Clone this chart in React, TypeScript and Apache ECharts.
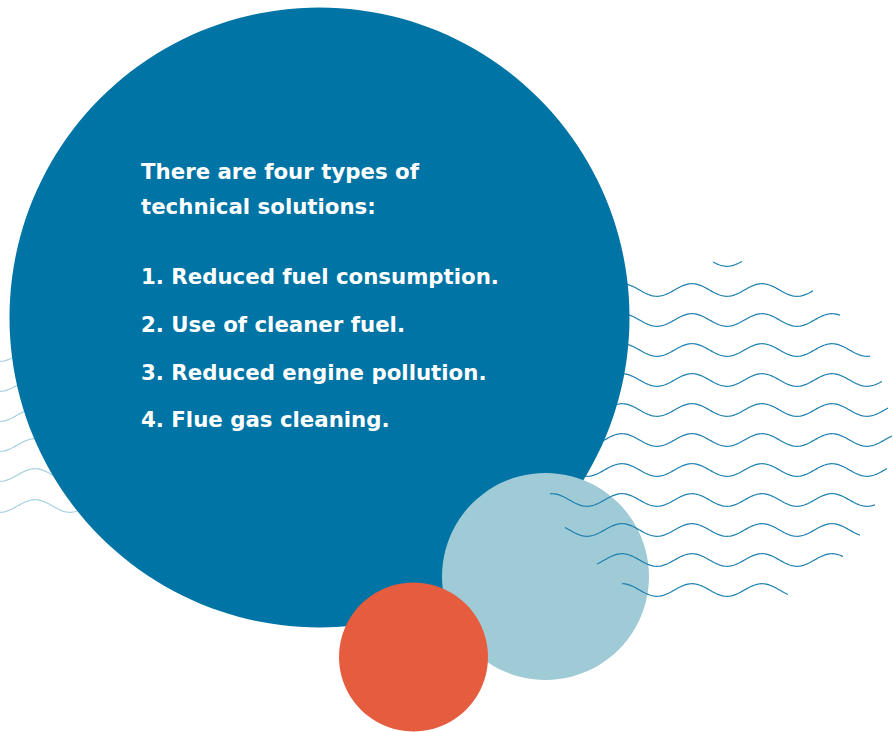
import React, { useEffect, useRef } from "react";
import * as echarts from "echarts";

// Text content
const headingLines = ["There are four types of", "technical solutions:"];
const solutionItems = [
  "1. Reduced fuel consumption.",
  "2. Use of cleaner fuel.",
  "3. Reduced engine pollution.",
  "4. Flue gas cleaning.",
];

// Wave rows on the right (center y, start x, end x)
const rightRowY = [260, 290, 320, 350, 380, 410, 440, 470, 500, 530, 560, 590];
const rightRowStart = [713, 560, 560, 560, 560, 560, 560, 560, 550, 565, 597, 622];
const rightRowEnd = [742, 813, 840, 870, 882, 888, 892, 887, 875, 860, 843, 788];

// Faint wave rows on the left, behind the big circle
const leftRowY = [355, 385, 415, 445, 475, 506];

const W = 893;
const H = 732;

const WAVE_LEN = 70;
const WAVE_AMP = 6.3;

function wavePoints(cy: number, x0: number, x1: number, crestX: number): number[][] {
  const pts: number[][] = [];
  for (let x = x0; x <= x1; x += 1.5) {
    pts.push([x, cy - WAVE_AMP * Math.cos((2 * Math.PI * (x - crestX)) / WAVE_LEN)]);
  }
  pts.push([x1, cy - WAVE_AMP * Math.cos((2 * Math.PI * (x1 - crestX)) / WAVE_LEN)]);
  return pts;
}

export default function App() {
  const ref = useRef<HTMLDivElement>(null);

  useEffect(() => {
    document.body.style.margin = "0";
    if (!ref.current) return;
    const chart = echarts.init(ref.current, undefined, { renderer: "svg" });

    const graphics: any[] = [];

    leftRowY.forEach((cy) => {
      graphics.push({
        type: "polyline",
        z: 1,
        shape: { points: wavePoints(cy, 0, 130, 35) },
        style: { stroke: "#a8d0e1", lineWidth: 1.2, fill: null },
        silent: true,
      });
    });

    const backRows: any[] = [];
    const frontRows: any[] = [];
    rightRowY.forEach((cy, i) => {
      const el = {
        type: "polyline",
        shape: { points: wavePoints(cy, rightRowStart[i], rightRowEnd[i], 622) },
        style: { stroke: "#1a7eae", lineWidth: 1.2, fill: null },
        silent: true,
      };
      if (cy <= 470) backRows.push({ ...el, z: 1 });
      else frontRows.push({ ...el, z: 4 });
    });
    graphics.push(...backRows);

    graphics.push({
      type: "circle",
      z: 2,
      shape: { cx: 319.5, cy: 317.5, r: 310 },
      style: { fill: "#0074a4" },
      silent: true,
    });
    graphics.push({
      type: "circle",
      z: 3,
      shape: { cx: 545.5, cy: 576.5, r: 103.5 },
      style: { fill: "#9fcbd7" },
      silent: true,
    });
    graphics.push(...frontRows);
    graphics.push({
      type: "circle",
      z: 5,
      shape: { cx: 413.5, cy: 657, r: 74.5 },
      style: { fill: "#e65c3f" },
      silent: true,
    });

    const font = "DejaVu Sans";
    const fontSize = 21.3;
    const headingY = [171, 206];
    headingLines.forEach((t, i) => {
      graphics.push({
        type: "text",
        z: 6,
        x: 141,
        y: headingY[i],
        style: {
          text: t,
          fill: "#ffffff",
          font: `bold ${fontSize}px "${font}"`,
          verticalAlign: "middle",
        },
      });
    });
    const itemY = [276, 324, 372, 419];
    solutionItems.forEach((t, i) => {
      graphics.push({
        type: "text",
        z: 6,
        x: 141,
        y: itemY[i],
        style: {
          text: t,
          fill: "#ffffff",
          font: `bold ${fontSize}px "${font}"`,
          verticalAlign: "middle",
        },
      });
    });

    chart.setOption({
      animation: false,
      backgroundColor: "#ffffff",
      graphic: { elements: graphics },
    });

    return () => chart.dispose();
  }, []);

  return <div ref={ref} style={{ width: W, height: H }} />;
}
